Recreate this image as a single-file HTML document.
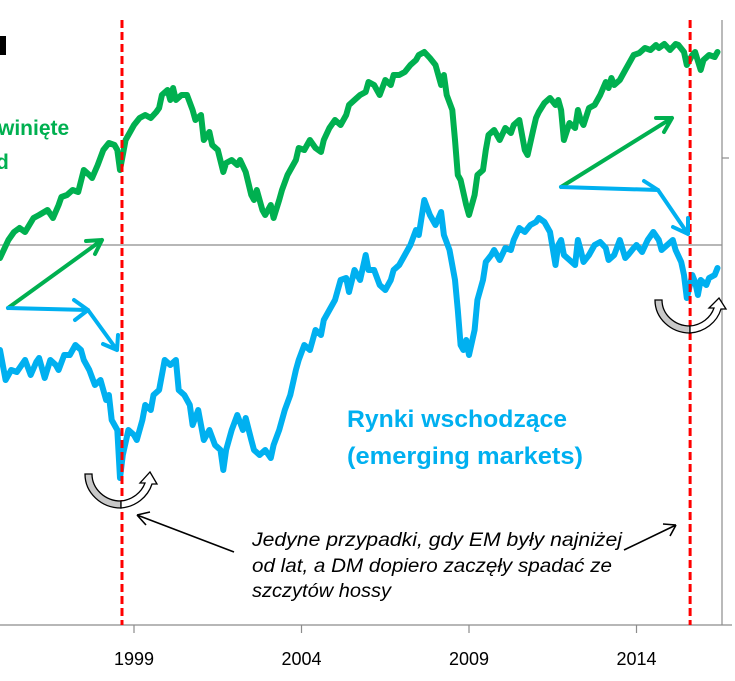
<!DOCTYPE html>
<html><head><meta charset="utf-8"><style>
html,body{margin:0;padding:0;background:#fff;}
svg{display:block;font-family:"Liberation Sans","DejaVu Sans",sans-serif;}
</style></head><body>
<svg id="chart" width="735" height="681" viewBox="0 0 735 681">
<g id="axes"></g>
<g id="series"></g>
<g id="annot">
  <rect x="0" y="36" width="6" height="19" fill="#000"/>
  <text x="-2" y="135" font-size="21" font-weight="bold" fill="#00b050">winięte</text>
  <text x="-4" y="169" font-size="21" font-weight="bold" fill="#00b050">d</text>
  <text x="347" y="427" font-size="24" font-weight="bold" fill="#00b0f0" textLength="220" lengthAdjust="spacingAndGlyphs">Rynki wschodzące</text>
  <text x="347" y="464" font-size="24" font-weight="bold" fill="#00b0f0" textLength="236" lengthAdjust="spacingAndGlyphs">(emerging markets)</text>
  <g font-size="19" font-style="italic" fill="#000">
    <text x="252" y="546" textLength="370" lengthAdjust="spacingAndGlyphs">Jedyne przypadki, gdy EM były najniżej</text>
    <text x="252" y="572" textLength="360" lengthAdjust="spacingAndGlyphs">od lat, a DM dopiero zaczęły spadać ze</text>
    <text x="252" y="597" textLength="139" lengthAdjust="spacingAndGlyphs">szczytów hossy</text>
  </g>
  <g stroke="#000" stroke-width="1.6" fill="none">
    <path d="M234 552 L137 515 M137 515 L150 512 M137 515 L146 525"/>
    <path d="M624 550 L676 525 M676 525 L663 524 M676 525 L670 536"/>
  </g>
  <g stroke-width="4" fill="none" stroke-linecap="round" stroke-linejoin="round">
    <path stroke="#00b050" d="M8 308 L102 240 M102 240 L86 241 M102 240 L95 254"/>
    <path stroke="#00b0f0" d="M8 308 L88 310 M88 310 L74 300 M88 310 L75 320 M88 310 L117 350 M117 350 L118 335 M117 350 L103 344"/>
    <path stroke="#00b050" d="M561 187 L672 118 M672 118 L656 118 M672 118 L664 132"/>
    <path stroke="#00b0f0" d="M561 187 L658 190 M658 190 L644 181 M658 190 L688 234 M688 234 L688 218 M688 234 L673 227"/>
  </g>
  <g stroke="#000" stroke-width="1.3">
    <path d="M85 474 A36 34 0 0 0 121 508 L121 501 A29 27 0 0 1 92 474 Z" fill="#c8c8c8"/>
    <path d="M121 508 A36 34 0 0 0 152 484 L157 484 L150 472 L140 483 L145 483 A29 27 0 0 1 121 501 Z" fill="#fff"/>
  </g>
  <g stroke="#000" stroke-width="1.3">
    <path d="M655 300 A35 33 0 0 0 690 333 L690 326 A28 26 0 0 1 662 300 Z" fill="#c8c8c8"/>
    <path d="M690 333 A35 33 0 0 0 721 309 L726 309 L719 298 L709 308 L714 308 A28 26 0 0 1 690 326 Z" fill="#fff"/>
  </g>
</g>
</svg>
<script>
const tickYears = [1999, 2004, 2009, 2014];
const crisisMonths = [43.7, 247.2];
const dmMonths = [0,3,5,7,9,12,14,17,19,21,22,24,26,28,30,32,33,35,37,39,41,42,43,45,47,48,50,52,54,56,57,58,60,61,62,63,65,67,69,70,72,73,75,76,78,80,81,83,85,86,88,90,91,92,94,95,97,98,100,101,103,104,106,107,109,111,113,115,116,118,120,122,124,125,127,129,131,132,134,136,138,140,141,143,145,147,149,150,152,154,156,158,159,160,162,163,164,165,167,168,170,171,173,174,175,177,179,181,183,184,186,188,189,191,192,193,195,197,199,200,201,202,204,206,207,208,209,211,213,215,217,218,219,220,222,224,226,227,229,231,233,235,236,238,240,242,243,245,246,248,249,251,252,254,256,257];
const dmValues = [367,385,393,397,393,407,410,415,407,420,428,430,435,433,455,450,447,460,475,482,480,475,455,485,495,500,507,510,507,513,517,530,535,525,537,525,530,530,515,505,510,485,493,480,475,453,462,465,460,465,453,430,425,435,415,410,420,407,425,435,450,455,465,477,475,485,477,473,485,497,505,500,510,520,525,530,533,543,540,530,545,540,550,550,553,560,565,570,573,567,560,540,550,530,515,485,450,445,420,410,430,450,455,475,490,495,485,497,492,500,505,475,470,495,507,513,522,527,520,525,515,485,502,497,515,505,500,517,520,530,543,537,547,540,545,555,565,570,572,577,575,580,577,581,575,581,580,573,560,570,573,555,565,570,568,573];
const emMonths = [0,2,4,6,9,11,13,14,16,18,20,21,23,25,27,29,30,32,34,36,38,39,40,42,43,44,46,48,49,51,52,54,55,57,59,61,63,64,66,68,69,71,72,73,75,77,79,80,81,83,85,87,88,90,91,93,95,97,98,100,102,104,106,107,109,111,113,115,116,118,120,122,124,125,127,129,131,132,134,136,138,140,141,143,145,147,149,150,152,154,156,158,159,161,163,164,165,166,167,168,170,171,173,174,176,177,179,181,183,184,186,188,190,192,193,195,197,199,200,201,202,204,206,207,208,209,211,213,215,217,218,220,222,224,225,227,228,230,232,234,236,237,239,241,242,244,245,246,248,249,250,251,253,254,256,257];
const emValues = [275,245,255,253,265,250,263,267,247,265,260,255,270,270,280,275,265,255,240,245,225,230,205,195,147,170,195,190,185,205,220,215,230,235,265,260,265,235,230,220,200,215,200,185,195,180,175,155,175,195,210,195,207,185,175,170,175,167,180,195,215,230,255,265,280,275,295,290,305,315,325,345,347,333,355,345,370,355,355,340,335,345,355,360,370,380,395,390,425,410,400,413,390,375,345,315,280,275,285,270,295,325,345,363,370,375,365,377,375,385,397,393,400,403,407,403,393,360,380,385,370,365,360,385,375,363,370,380,383,377,365,370,385,367,370,377,380,373,385,393,385,375,380,385,375,363,350,327,350,343,330,345,340,347,350,357];

const NS = 'http://www.w3.org/2000/svg';
function xScale(m){ return m * 2.7917; }
function yScale(v){ return 625 - v; }
function mk(tag, attrs, parent){ const e = document.createElementNS(NS, tag); for (const k in attrs) e.setAttribute(k, attrs[k]); parent.appendChild(e); return e; }

const axes = document.getElementById('axes');
const grid = mk('line', {x1:0, y1:yScale(380), x2:722, y2:yScale(380), stroke:'#8c8c8c', 'stroke-width':1.2}, axes);


const rAxis = mk('line', {x1:722, y1:20, x2:722, y2:625, stroke:'#8c8c8c', 'stroke-width':1.2}, axes);


const rTick = mk('line', {x1:722, y1:yScale(467), x2:729, y2:yScale(467), stroke:'#8c8c8c', 'stroke-width':1.2}, axes);


const xAxis = mk('line', {x1:0, y1:625, x2:732, y2:625, stroke:'#8c8c8c', 'stroke-width':1.2}, axes);


tickYears.forEach(function(yr){
  const x = xScale((yr - 1995) * 12);
  const t = mk('line', {x1:x, y1:625, x2:x, y2:633, stroke:'#8c8c8c', 'stroke-width':1.2}, axes);
  
  
  const l = mk('text', {x:x, y:665, 'text-anchor':'middle', 'font-size':18, fill:'#000'}, axes);
  l.textContent = yr;
  
  
});

const series = document.getElementById('series');
function path(ms, vs){ return ms.map(function(m,i){ return (i ? 'L' : 'M') + xScale(m).toFixed(1) + ' ' + yScale(vs[i]).toFixed(1); }).join(' '); }
const dm = mk('path', {d:path(dmMonths, dmValues), fill:'none', stroke:'#00b050', 'stroke-width':6, 'stroke-linejoin':'round', 'stroke-linecap':'round'}, series);


const em = mk('path', {d:path(emMonths, emValues), fill:'none', stroke:'#00b0f0', 'stroke-width':6, 'stroke-linejoin':'round', 'stroke-linecap':'round'}, series);


crisisMonths.forEach(function(m){
  const x = xScale(m);
  const d = mk('line', {x1:x, y1:20, x2:x, y2:625, stroke:'#ff0000', 'stroke-width':3, 'stroke-dasharray':'8 4'}, series);
  
  
});
</script>
</body></html>
